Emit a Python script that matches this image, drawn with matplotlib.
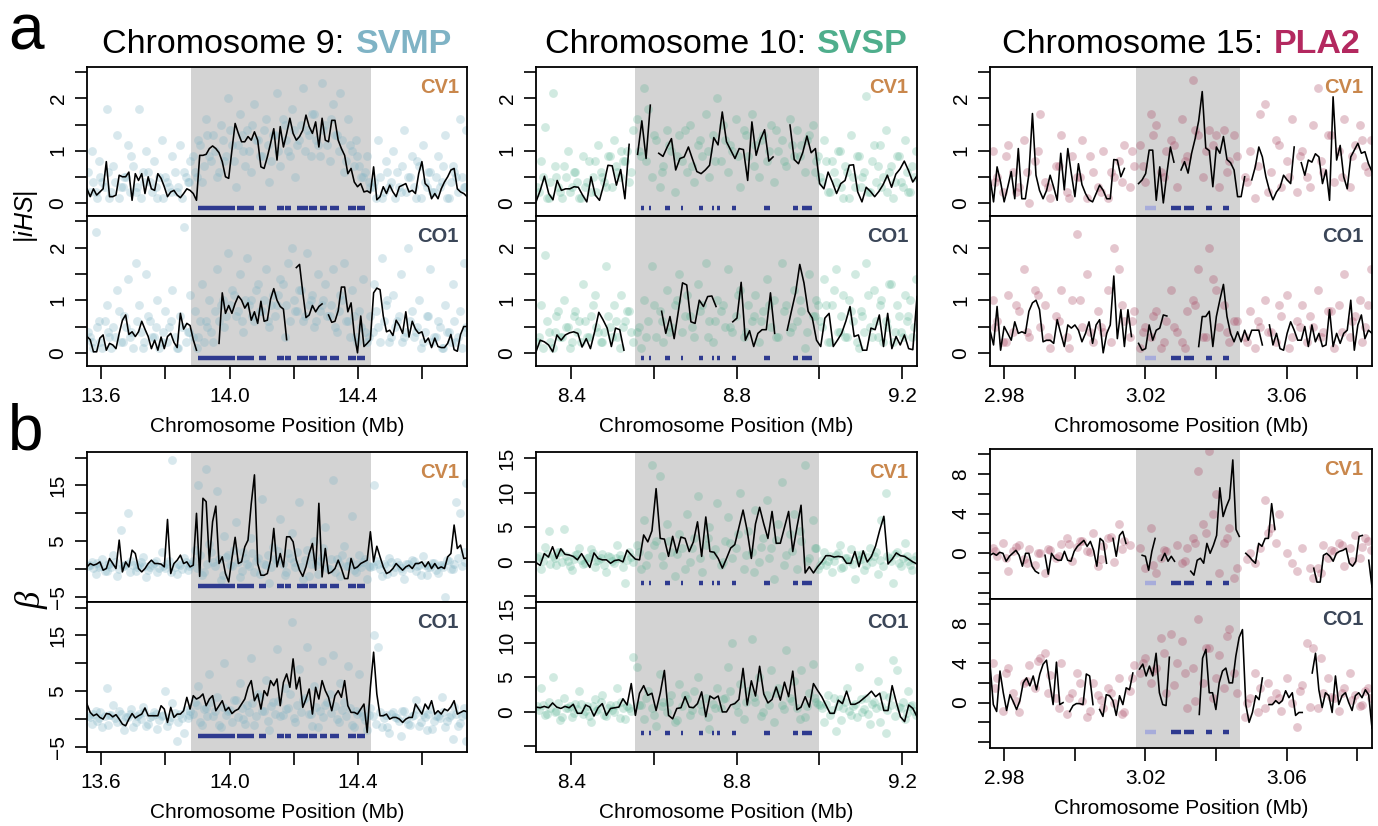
import numpy as np
import matplotlib
matplotlib.use("Agg")
import matplotlib.pyplot as plt
from matplotlib.offsetbox import TextArea, HPacker, AnnotationBbox

plt.rcParams['font.family'] = ['Liberation Sans', 'DejaVu Sans']
plt.rcParams['mathtext.fontset'] = 'custom'
plt.rcParams['mathtext.it'] = 'Liberation Sans:italic'
plt.rcParams['mathtext.rm'] = 'Liberation Sans'

# ---------------- data ----------------
# window means (|iHS| and beta), evenly spaced windows across each plotted region; None = no data
IHS_CV1_SVMP = [0.27,0.12,0.27,0.15,0.21,0.27,0.79,0.12,0.12,0.15,
                0.53,0.50,0.50,0.59,0.05,0.56,0.43,0.56,0.18,0.50,
                0.27,0.24,0.56,0.47,0.31,0.12,0.21,0.24,0.15,0.10,
                0.18,0.27,0.24,0.18,0.05,0.91,0.91,0.93,1.04,1.09,
                1.04,0.96,0.79,0.50,0.47,1.01,1.52,1.33,1.17,1.17,
                1.27,1.20,1.36,1.20,0.69,0.66,0.88,1.14,1.42,0.82,
                1.46,1.07,1.33,1.62,1.33,1.20,1.27,1.39,1.68,1.46,
                1.33,1.55,1.07,1.62,1.20,1.17,1.58,1.58,1.20,1.04,
                0.91,0.56,0.66,0.40,0.31,0.37,0.21,0.23,0.19,0.69,
                0.06,0.12,0.31,0.18,0.34,0.21,0.12,0.31,0.34,0.37,
                0.21,0.24,0.18,0.56,0.79,0.37,0.31,0.08,0.18,0.08,
                0.27,0.40,0.50,0.63,0.66,0.27,0.21,0.18,0.12]
IHS_CO1_SVMP = [0.31,0.25,0.02,0.02,0.28,0.34,0.05,0.18,0.15,0.08,
                0.37,0.62,0.72,0.35,0.40,0.31,0.40,0.60,0.45,0.31,
                0.08,0.24,0.05,0.30,0.08,0.31,0.37,0.20,0.10,0.75,
                0.45,0.56,0.52,0.25,0.05,None,None,None,None,None,
                None,0.18,1.14,0.75,0.90,0.75,0.94,1.08,1.00,0.85,
                0.95,0.62,0.78,0.56,0.98,0.60,0.62,1.02,1.22,1.00,
                0.88,0.83,0.25,None,None,1.62,1.68,1.15,0.67,0.72,
                0.90,0.78,0.88,0.93,None,0.72,0.58,0.60,0.80,1.25,
                1.25,0.78,0.95,0.35,0.00,0.70,0.12,0.18,0.25,1.14,
                1.23,1.20,0.70,0.40,0.43,0.33,0.62,0.52,0.37,0.78,
                0.30,0.60,0.45,0.37,0.40,0.20,0.28,0.10,0.28,0.12,
                0.10,0.10,0.18,0.35,0.06,0.03,0.35,0.50,0.50]
BETA_CV1_SVMP = [0.4,1.0,0.7,0.9,1.3,-0.2,0.1,1.9,1.0,0.1,
                 5.2,-0.5,1.3,0.4,3.4,2.8,0.1,-0.5,0.1,1.0,
                 1.6,1.0,1.0,0.9,0.4,8.9,-0.8,1.0,1.6,2.5,
                 1.0,1.3,0.4,0.7,10.0,-1.3,12.7,12.1,1.3,8.5,
                 11.3,1.0,2.2,-0.8,-2.3,1.9,5.7,1.0,1.3,4.0,
                 5.2,11.7,16.9,1.0,-1.1,-1.1,-0.8,1.6,7.3,0.4,
                 2.8,0.4,5.8,5.8,4.9,1.6,-0.2,-1.3,0.4,2.8,
                 4.6,-0.2,11.8,-1.4,3.7,-0.8,-0.5,0.1,1.6,0.1,
                 -1.7,-1.7,1.9,0.1,0.4,1.0,1.3,1.6,6.7,1.3,
                 4.1,2.2,0.4,-0.8,-0.5,0.1,1.0,0.4,-0.2,0.4,
                 0.7,0.1,1.0,1.0,1.3,0.4,1.3,0.1,1.0,0.1,
                 0.4,0.1,2.2,2.8,7.9,3.7,4.3,1.9,2.0]
BETA_CO1_SVMP = [2.7,1.2,0.6,0.9,0.3,0.0,1.0,0.9,0.4,0.8,
                 0.0,-0.9,-1.2,0.0,1.0,0.2,0.6,0.9,2.0,0.6,
                 0.6,0.6,0.6,2.4,1.8,-0.6,2.1,0.3,0.9,0.9,
                 1.5,3.9,1.8,4.2,3.6,3.9,4.5,2.4,3.6,4.2,
                 1.5,2.4,3.3,1.5,2.1,1.0,1.5,1.8,2.7,3.6,
                 5.7,6.9,3.3,4.5,1.8,5.1,4.2,6.9,6.0,7.2,
                 2.4,6.6,8.1,5.7,10.8,5.4,7.5,2.1,3.6,5.4,
                 0.9,5.7,3.6,6.9,5.1,3.9,1.5,4.2,5.1,3.9,
                 6.9,2.4,1.2,1.2,0.9,1.8,2.7,-2.4,5.7,12.0,
                 4.5,0.6,0.6,0.9,0.0,0.3,0.3,0.0,-0.6,0.0,
                 0.3,0.3,2.7,1.8,0.9,2.7,1.8,3.3,0.9,1.5,
                 0.9,1.8,1.5,2.2,3.3,0.9,1.2,1.5,1.3]

IHS_CV1_SVSP = [0.02,0.24,0.51,0.18,0.06,0.43,0.24,0.27,0.27,0.31,
                0.30,0.15,0.02,0.50,0.15,0.05,0.35,0.72,0.71,0.34,
                0.64,0.08,1.12,None,0.93,1.57,0.85,1.87,None,0.95,
                0.89,1.07,1.23,0.63,0.85,0.88,1.07,0.83,0.60,0.56,
                0.63,0.72,1.25,1.11,1.74,1.17,1.01,0.85,1.04,1.02,
                0.43,1.55,0.91,1.21,1.40,0.80,0.88,None,None,None,
                1.49,0.83,0.75,0.96,1.28,0.96,1.04,0.37,0.27,0.59,
                0.40,0.18,0.37,0.43,0.72,0.73,0.21,0.02,0.30,0.22,
                0.12,0.22,0.35,0.53,0.30,0.55,0.65,0.80,0.62,0.40,0.52]
IHS_CO1_SVSP = [0.02,0.24,0.21,0.15,0.02,0.34,0.24,0.34,0.38,0.40,
                0.37,0.11,0.27,0.08,0.40,0.77,0.63,0.47,0.12,0.47,
                0.44,0.05,None,None,None,None,None,None,None,None,
                0.79,0.37,0.69,0.27,0.79,1.33,1.29,0.59,0.56,1.00,
                0.88,1.07,1.08,0.88,None,None,None,0.59,0.66,1.34,
                0.24,0.42,0.12,0.37,0.44,0.44,1.14,0.37,None,None,
                0.43,0.79,1.14,1.68,1.33,0.79,0.66,0.24,0.12,0.66,
                0.75,0.12,0.24,0.37,0.60,0.88,0.31,0.34,0.05,0.05,
                0.47,0.44,0.72,0.12,0.75,0.08,0.31,0.15,0.34,0.08,
                0.06,1.07]
BETA_CV1_SVSP = [-0.1,-0.5,1.2,0.7,2.2,0.5,1.9,1.1,1.0,0.8,
                 0.3,1.2,0.2,-0.8,1.3,0.5,0.3,0.3,-0.2,0.2,
                 0.3,0.0,1.7,1.0,0.4,0.3,3.9,2.9,4.5,10.6,
                 3.4,3.3,0.8,3.7,1.3,3.6,3.4,1.5,2.9,5.8,
                 0.8,6.5,1.5,1.4,0.5,-0.9,0.5,2.0,2.5,5.0,
                 7.5,4.5,0.5,5.5,7.9,5.5,3.4,7.3,2.7,2.7,
                 5.0,7.3,1.5,5.0,8.2,-1.6,-0.7,-1.6,-0.7,0.0,
                 0.9,0.9,0.7,0.8,0.7,-0.2,-0.2,1.5,-0.7,1.6,
                 0.0,0.8,2.3,4.6,6.6,-0.3,0.4,1.3,0.9,0.8,
                 0.4,0.0,-0.3]
BETA_CO1_SVSP = [0.7,0.6,0.8,0.6,1.3,0.7,0.5,0.8,0.6,1.1,
                 -0.2,-0.2,1.0,0.7,-0.6,0.6,1.2,-0.5,0.5,0.6,
                 0.7,1.9,1.0,4.1,-0.5,2.7,3.8,2.4,2.7,0.2,
                 2.7,6.0,-0.5,-1.0,0.5,0.6,2.2,0.7,0.6,1.2,
                 2.9,-0.7,2.3,1.9,2.3,0.0,0.0,1.0,1.2,1.8,
                 6.3,1.0,4.5,2.3,6.6,2.6,1.3,1.8,3.6,1.7,
                 4.3,2.2,5.9,0.3,0.7,2.2,0.7,4.1,3.1,2.2,
                 1.0,-0.2,-0.2,1.7,1.2,3.0,1.1,1.1,1.4,1.9,
                 2.4,3.0,2.2,2.7,0.2,0.2,3.8,1.4,-0.7,-1.4,
                 1.0,0.5,-0.7]

IHS_CV1_PLA2 = [0.50,0.02,0.69,0.40,0.02,0.30,0.60,0.08,1.04,0.08,
                0.08,0.55,1.71,0.53,0.24,0.08,0.24,0.53,0.30,0.05,
                0.95,0.25,1.04,0.56,0.12,0.75,0.35,0.18,0.06,0.02,
                0.18,0.34,0.24,0.08,0.08,0.83,0.82,0.50,0.66,None,
                None,None,0.37,0.44,0.56,1.01,1.01,0.05,0.69,0.00,
                0.56,1.07,0.78,None,0.63,0.79,0.57,0.95,1.23,1.57,
                2.13,1.05,1.00,0.31,1.07,0.95,1.27,0.83,0.77,0.63,
                0.12,0.12,0.50,None,0.44,0.69,1.07,0.88,0.50,0.24,
                0.06,0.21,0.30,0.53,0.44,0.37,1.07,None,0.77,0.53,
                0.82,0.78,0.94,0.88,0.37,0.63,0.05,2.03,0.82,1.10,
                0.50,0.27,0.88,1.01,1.14,0.95,0.98,0.75,0.60]
IHS_CO1_PLA2 = [0.43,0.15,0.88,0.05,0.50,0.37,0.24,0.59,0.37,0.40,
                0.37,0.79,0.95,1.00,0.82,0.21,0.24,0.24,0.18,0.63,
                0.37,0.12,0.53,0.47,0.53,0.43,0.21,0.37,0.59,0.18,
                0.53,0.63,0.00,0.37,0.53,1.46,0.27,0.82,0.12,0.82,
                0.31,None,0.18,0.05,0.08,0.53,0.24,0.43,0.47,0.72,
                0.70,None,None,None,None,None,None,None,None,0.12,
                0.69,0.69,0.79,0.12,0.69,1.01,1.30,0.69,0.37,0.21,
                0.40,0.21,0.43,0.24,0.43,0.43,0.43,0.15,None,0.53,
                0.15,0.37,0.08,0.05,0.37,0.59,0.43,0.24,0.24,0.50,
                0.12,0.53,0.21,0.37,0.12,0.15,0.82,0.12,0.37,0.18,
                0.37,0.43,1.00,0.05,0.53,0.72,0.27,0.43,0.37]
BETA_CV1_PLA2 = [-0.2,0.0,-0.2,0.1,0.0,-0.8,-0.3,0.0,0.3,-0.2,
                 -1.3,0.0,0.0,-1.3,-1.8,-2.0,None,-0.2,-2.1,0.0,
                 -0.5,-0.7,-0.7,0.2,-0.7,-0.8,0.2,0.7,1.0,1.3,
                 0.7,1.2,0.3,-1.3,1.5,1.2,-1.0,None,1.5,-0.3,
                 1.8,2.2,1.0,None,None,None,None,-0.2,-0.3,-1.7,
                 0.2,1.5,None,-0.7,0.0,-0.8,-0.3,-0.8,None,None,
                 None,None,-1.8,-2.2,-0.7,-0.5,-1.0,1.0,0.0,0.8,
                 1.8,6.6,3.7,4.7,5.5,9.4,2.4,1.7,None,0.0,
                 -0.3,-0.7,-1.0,1.0,0.7,1.5,1.5,5.0,2.4,None,
                 None,None,None,None,None,None,None,None,None,None,
                 -1.5,-2.9,-2.9,-0.2,0.0,-0.3,-0.8,0.0,0.2,0.3,
                 0.5,-1.0,-1.3,-0.8,1.7,1.8,None,-0.7,-3.4]
BETA_CO1_PLA2 = [3.9,-0.2,-0.9,3.2,1.0,-0.8,0.8,0.1,-0.7,0.2,
                 2.0,2.5,1.7,2.7,1.3,2.9,3.9,4.3,2.0,-0.2,
                 4.1,-0.2,0.0,None,-0.9,-0.3,-0.1,-0.1,-0.2,2.9,
                 2.7,-0.2,None,-0.7,-1.4,0.8,0.7,0.2,-1.3,0.7,
                 -0.2,1.5,1.3,3.0,None,3.4,3.9,2.7,3.7,2.7,
                 5.0,1.0,-0.2,-0.3,4.6,None,None,None,None,None,
                 None,None,None,-1.2,4.5,5.4,1.0,1.0,-0.7,2.0,
                 3.2,3.5,2.0,2.0,4.7,6.6,7.4,-0.2,-2.0,-1.0,
                 0.7,0.3,2.5,None,-0.2,-0.2,0.2,-0.1,0.2,1.2,
                 0.5,1.0,-1.3,-1.0,-1.0,None,None,3.0,5.0,1.3,
                 -0.5,1.0,0.7,-1.0,2.7,-0.2,0.7,1.0,0.0,-0.8,
                 0.7,1.0,0.5,1.3,0.8,-2.6]

# individual SNPs: positions in Mb, one value per panel (two batches of SNPs per region)
SNP_POS_SVMP = [13.560,13.571,13.583,13.592,13.604,13.617,13.625,13.638,13.649,13.661,
                13.672,13.684,13.693,13.707,13.718,13.729,13.741,13.752,13.766,13.774,
                13.788,13.799,13.811,13.822,13.836,13.845,13.858,13.869,13.878,13.891,
                13.903,13.914,13.927,13.936,13.949,13.961,13.972,13.984,13.995,14.008,
                14.019,14.031,14.043,14.054,14.066,14.077,14.089,14.102,14.113,14.124,
                14.136,14.147,14.158,14.171,14.183,14.194,14.205,14.217,14.229,14.241,
                14.252,14.263,14.276,14.287,14.298,14.311,14.322,14.334,14.345,14.357,
                14.368,14.381,14.392,14.404,14.415,14.427,14.438,14.451,14.462,14.474,
                14.486,14.497,14.508,14.521,14.532,14.544,14.556,14.567,14.579,14.590,
                14.602,14.613,14.625,14.637,14.648,14.660,14.671,14.683,14.694,14.706,
                14.718,14.729,14.737]
SNP_IHS_CV1_SVMP = [0.6,1.0,0.2,0.8,0.4,1.8,0.1,0.7,1.3,0.3,0.5,1.1,0.9,0.2,1.8,0.6,1.0,0.4,0.8,0.1,
                    1.2,0.5,0.3,0.9,0.2,1.1,0.6,0.4,0.8,0.6,1.2,0.4,1.6,0.9,1.3,0.5,1.5,0.8,2.0,
                    1.1,0.3,1.7,1.0,1.4,0.6,1.9,1.2,0.9,1.6,0.4,1.3,2.1,0.7,1.5,1.0,1.8,0.5,1.2,2.2,
                    1.4,0.9,1.7,1.1,2.3,1.5,0.8,1.9,1.3,2.1,0.6,1.6,1.0,1.2,0.7,0.5,0.9,0.3,
                    0.4,1.2,0.1,0.8,0.3,1.0,0.6,0.2,1.4,0.5,0.9,0.1,0.7,1.1,0.3,0.6,0.2,0.9,0.4,1.3,
                    0.1,0.7,0.5,1.6,0.3,1.4]
SNP_IHS_CO1_SVMP = [0.4,0.2,2.3,0.6,0.1,0.9,0.3,0.5,1.2,0.2,0.7,1.4,0.4,1.7,0.9,0.1,1.5,0.6,0.3,1.0,
                    0.2,0.8,0.5,1.2,0.1,0.7,2.4,0.4,1.1,0.8,0.3,1.3,0.6,1.0,0.2,1.6,0.9,0.5,1.9,
                    1.2,0.7,1.5,0.4,1.8,1.0,0.6,1.3,0.8,1.6,0.5,1.1,0.9,1.4,0.3,1.7,2.0,0.8,1.2,0.6,
                    1.9,1.0,0.5,1.5,0.9,1.3,0.7,1.6,0.4,1.1,1.7,0.6,1.2,0.3,0.8,1.4,0.2,0.7,
                    1.3,0.5,1.8,0.9,0.2,1.1,0.6,1.5,0.3,2.0,0.8,0.4,1.0,0.2,0.7,1.6,0.3,0.6,0.1,0.9,
                    0.4,1.3,0.2,0.8,1.7,0.5]
SNP_BETA_CV1_SVMP = [0.5,1.2,-0.8,0.3,1.8,-0.4,0.9,2.5,-1.2,7.0,0.6,10.0,1.5,-0.3,0.8,2.2,-1.5,0.4,1.1,-0.6,
                     3.0,0.2,1.4,19.5,-0.9,0.7,2.0,-0.2,1.0,3.5,15.0,-1.0,18.0,4.5,1.2,14.0,-2.0,6.0,2.5,
                     0.5,8.5,-1.5,3.0,1.0,5.5,-0.5,2.0,12.5,0.8,-2.5,4.0,1.5,9.0,-1.0,2.8,6.5,0.3,12.0,-1.8,
                     3.5,1.0,5.0,-0.8,2.2,7.5,0.0,16.0,1.8,-1.2,4.2,0.6,9.5,-0.5,2.5,1.2,-1.8,0.4,
                     15.0,1.0,-1.2,0.5,2.0,-0.6,1.3,0.2,-1.8,0.9,1.6,-0.4,0.7,2.4,-1.0,0.3,1.1,-0.7,0.8,-5.0,
                     1.4,0.1,12.0,10.0,3.0,15.5]
SNP_BETA_CO1_SVMP = [0.5,-0.8,1.4,0.2,-1.5,5.5,0.8,2.5,-0.5,1.0,-2.0,0.4,1.8,-0.6,0.9,2.2,-1.2,0.3,1.2,-1.8,
                     0.6,5.0,-0.3,2.8,-4.0,1.0,-2.5,0.2,1.5,3.0,6.0,-1.0,2.0,8.0,0.5,4.0,-1.5,10.0,1.5,
                     -0.5,3.5,6.5,0.0,2.5,11.0,-1.0,4.5,1.5,7.0,-2.0,3.0,12.5,0.5,5.5,2.0,17.5,-0.5,9.0,3.5,
                     13.0,1.0,6.0,-1.5,10.5,2.5,4.5,11.5,0.0,6.5,3.0,9.5,-1.0,1.5,8.0,0.5,-2.0,2.0,
                     15.0,13.0,-1.5,0.8,-2.5,1.2,0.2,-3.0,1.5,-0.8,0.5,3.5,-1.2,0.9,-2.0,1.8,-0.4,0.6,4.0,-1.5,
                     0.3,-3.5,1.0,-0.7,2.0,-4.0]
SNP2_POS_SVMP = [13.566,13.576,13.588,13.598,13.611,13.621,13.631,13.643,13.655,13.667,
                 13.678,13.689,13.700,13.712,13.723,13.735,13.746,13.759,13.770,13.781,
                 13.794,13.805,13.816,13.829,13.840,13.851,13.863,13.874,
                 13.885,13.897,13.909,13.920,13.931,13.943,13.955,13.966,13.978,13.990,
                 14.001,14.013,14.025,14.037,14.048,14.060,14.071,14.083,14.095,14.107,
                 14.118,14.130,14.141,14.152,14.165,14.177,14.188,14.199,14.211,14.223,
                 14.235,14.246,14.257,14.270,14.281,14.292,14.304,14.316,14.328,14.339,
                 14.351,14.362,14.375,14.386,14.398,14.409,14.421,14.433,
                 14.445,14.456,14.468,14.480,14.491,14.502,14.514,14.526,14.538,14.550,
                 14.561,14.573,14.584,14.596,14.607,14.619,14.631,14.642,14.654,14.665,
                 14.677,14.689,14.700,14.712,14.723,14.733]
SNP2_IHS_CV1_SVMP = [0.2,0.4,0.1,0.5,0.3,0.6,0.2,0.4,0.1,0.3,0.5,0.2,0.7,0.3,0.1,0.4,0.6,0.2,0.3,0.5,
                     0.1,0.4,0.2,0.6,0.3,0.1,0.5,0.4,
                     0.9,0.5,1.1,0.7,1.3,0.8,1.0,0.6,1.2,0.9,1.4,0.8,1.1,1.3,0.7,1.0,1.5,1.2,0.9,1.4,
                     1.1,0.8,1.3,1.0,1.6,1.2,0.9,1.4,1.1,1.5,1.0,1.3,1.7,1.2,0.9,1.4,1.1,1.6,1.3,1.0,
                     1.2,0.8,1.1,0.7,0.9,0.5,0.6,0.4,
                     0.3,0.1,0.5,0.2,0.6,0.4,0.1,0.3,0.7,0.2,0.5,0.3,0.8,0.1,0.4,0.6,0.2,0.5,0.3,0.7,
                     0.1,0.4,0.6,0.2,0.5,0.3]
SNP2_IHS_CO1_SVMP = [0.3,0.1,0.5,0.2,0.6,0.4,0.1,0.3,0.8,0.2,0.5,0.3,0.1,0.6,0.4,0.2,0.7,0.3,0.5,0.1,
                     0.4,0.2,0.6,0.3,0.1,0.5,0.2,0.4,
                     0.3,0.1,0.6,0.2,0.5,0.4,0.8,0.6,1.0,0.7,0.9,1.1,0.8,0.6,1.0,0.9,0.7,1.2,0.8,1.0,
                     0.6,0.9,0.7,1.1,1.3,0.9,0.6,1.0,0.8,1.2,0.7,0.9,1.1,0.6,0.8,1.0,0.7,0.9,0.5,0.8,
                     1.0,0.6,0.3,0.7,0.2,0.5,0.4,0.3,
                     0.4,0.8,0.2,0.6,1.0,0.3,0.5,0.7,0.2,0.4,0.6,0.3,0.5,0.1,0.4,0.7,0.2,0.3,0.5,0.1,
                     0.4,0.2,0.6,0.3,0.1,0.4]
SNP2_BETA_CV1_SVMP = [0.8,0.2,1.1,0.5,-0.3,0.9,0.4,1.3,0.1,0.6,1.0,-0.5,0.7,0.3,1.2,0.5,-0.2,0.8,1.4,0.2,
                      0.6,1.0,-0.6,0.4,0.9,0.1,1.3,0.5,
                      1.5,0.2,2.5,-0.5,1.0,3.0,0.5,1.8,-1.0,2.2,0.8,3.5,1.2,-0.3,2.0,0.6,2.8,1.5,-0.8,1.0,
                      2.5,0.3,1.8,3.2,0.9,-0.5,2.0,1.2,3.0,0.4,1.6,-1.2,2.3,0.7,1.4,3.8,0.2,1.9,-0.6,1.1,
                      2.6,0.5,1.5,-0.2,1.0,0.3,1.8,0.6,
                      0.5,1.5,0.0,0.9,-0.8,1.2,0.3,0.7,-0.4,1.0,0.2,1.4,0.6,-1.0,0.8,0.4,1.1,-0.2,0.7,0.3,
                      1.6,0.1,0.9,2.0,0.5,1.2]
SNP2_BETA_CO1_SVMP = [0.3,0.9,-0.4,1.2,0.5,-1.0,0.7,0.2,1.5,-0.6,0.4,1.0,-1.5,0.6,0.1,1.3,-0.8,0.5,0.9,-0.2,
                      0.8,-1.2,0.4,1.1,-0.5,0.2,1.6,0.7,
                      1.0,2.5,-0.5,1.8,0.6,3.0,1.4,-1.0,2.2,0.8,1.6,3.5,0.3,2.0,-0.8,1.2,2.8,0.5,4.0,1.5,
                      -0.3,2.4,1.0,3.2,0.7,1.8,4.5,0.2,2.6,1.3,3.8,0.9,-1.2,2.1,1.5,0.4,3.0,1.1,2.4,-0.6,
                      1.7,0.5,2.0,-1.5,0.9,1.3,-0.2,0.8,
                      0.6,-0.8,1.2,0.2,-1.5,0.9,0.4,-0.3,1.4,0.1,-1.0,0.7,1.8,-0.5,0.3,1.0,-1.8,0.6,0.2,1.3,
                      -0.4,0.8,2.2,-1.2,0.5,1.0]

SNP_POS_SVSP = [8.318,8.327,8.336,8.346,8.355,8.364,8.373,8.383,8.392,8.401,
                8.410,8.420,8.429,8.438,8.447,8.457,8.466,8.475,8.484,8.494,
                8.503,8.512,8.521,8.531,8.540,8.549,
                8.558,8.568,8.577,8.586,8.595,8.605,8.614,8.623,8.632,8.642,
                8.651,8.660,8.669,8.679,8.688,8.697,8.706,8.716,8.725,8.734,
                8.743,8.753,8.762,8.771,8.780,8.790,8.799,8.808,8.817,8.827,
                8.836,8.845,8.854,8.864,8.873,8.882,8.891,8.901,8.910,8.919,
                8.928,8.938,8.947,8.956,8.965,8.975,8.984,8.993,
                9.002,9.012,9.021,9.030,9.039,9.049,9.058,9.067,9.076,9.086,
                9.095,9.104,9.113,9.123,9.132,9.141,9.150,9.160,9.169,9.178,
                9.187,9.197,9.206,9.215,9.224,9.233]
SNP_IHS_CV1_SVSP = [0.3,0.8,1.45,0.1,2.1,0.5,0.2,0.7,1.0,0.3,0.6,0.1,0.9,0.4,0.2,0.8,1.1,0.5,0.3,0.9,
                    1.2,0.6,1.0,0.8,0.4,1.4,
                    1.6,0.9,2.2,1.8,0.5,1.2,0.3,0.7,1.4,1.0,0.2,1.3,0.8,0.6,1.5,0.4,1.1,0.9,1.7,0.5,
                    1.3,2.0,0.8,1.2,0.6,1.0,1.6,0.3,1.4,0.9,1.7,1.1,0.5,1.3,0.8,1.5,0.4,1.0,1.2,0.7,
                    1.6,0.9,1.4,1.1,0.6,1.3,1.5,0.8,
                    0.5,1.2,0.2,0.8,0.4,1.0,0.1,0.6,1.3,0.3,0.9,0.5,2.05,0.2,1.1,0.7,0.3,1.4,0.6,0.1,
                    0.9,0.4,1.2,0.2,0.7,1.0]
SNP_IHS_CO1_SVSP = [0.2,0.9,1.85,0.4,0.1,0.7,0.3,1.0,0.5,0.2,0.8,0.6,1.3,0.3,0.7,1.1,0.4,0.2,1.65,0.5,
                    0.9,0.3,1.1,0.6,0.8,0.2,
                    0.4,0.1,1.0,0.6,1.65,0.3,0.8,0.2,1.2,0.5,0.9,1.5,0.4,1.1,0.7,0.3,1.3,0.9,1.7,0.6,
                    0.2,1.0,0.8,0.5,1.6,0.4,0.7,1.2,0.3,0.9,0.6,1.1,0.2,0.8,1.4,0.5,1.0,0.3,1.7,0.9,
                    0.4,1.2,0.6,0.8,0.1,1.5,0.7,1.0,
                    0.6,1.4,0.2,0.9,1.6,0.4,1.1,0.3,0.8,1.5,0.1,0.7,1.7,0.5,1.2,0.3,1.0,0.6,1.3,0.2,
                    0.9,0.4,1.1,0.7,0.3,1.4]
SNP_BETA_CV1_SVSP = [0.5,-1.0,2.2,4.5,0.8,-0.5,1.5,4.8,0.2,-1.2,1.0,2.0,-0.3,0.6,1.8,-0.8,0.3,1.2,-1.5,0.7,
                     -0.2,2.5,0.4,-3.0,1.5,0.0,
                     2.5,-1.0,6.0,1.0,14.0,3.0,12.5,-0.5,5.5,1.5,-2.0,4.0,2.0,7.0,0.0,3.5,9.5,-1.5,2.5,5.0,
                     1.0,8.5,-0.5,3.0,6.5,0.5,2.0,10.0,-1.0,4.5,1.5,7.5,0.0,3.5,9.0,2.0,-2.5,5.5,11.5,1.0,
                     4.0,7.0,-1.0,3.0,14.0,0.5,6.0,2.0,
                     -0.5,1.5,0.2,-1.5,1.0,2.5,-0.8,0.6,1.8,-2.5,0.3,1.2,-0.4,2.0,0.8,-1.8,6.0,10.0,0.5,-3.0,
                     1.4,-0.6,2.8,0.2,-1.2,0.9]
SNP_BETA_CO1_SVSP = [0.8,3.5,-0.5,1.5,5.0,0.2,-1.2,2.0,0.6,-0.8,1.2,3.0,-0.3,0.9,-1.5,1.8,0.4,2.5,-0.6,1.0,
                     0.0,3.5,1.4,-1.0,0.5,8.0,
                     6.5,1.0,-1.0,3.0,0.5,-2.0,5.5,1.5,0.0,2.5,-1.5,4.0,0.8,1.8,-0.5,3.0,5.0,0.2,2.0,-2.5,
                     1.2,3.5,0.5,2.0,6.5,10.0,1.0,4.0,-1.0,3.0,10.5,1.5,5.0,0.0,2.5,6.0,-1.5,3.5,1.0,9.0,
                     2.0,4.5,0.5,6.0,-0.8,2.8,7.0,1.5,
                     1.0,-1.5,2.5,0.3,-2.8,1.8,0.6,3.5,-0.5,1.2,6.5,0.0,2.0,-1.8,1.5,4.5,0.8,-3.0,2.2,7.5,
                     6.0,0.5,-1.0,3.0,1.0,-0.5]
SNP2_POS_SVSP = [8.322,8.332,8.341,8.350,8.360,8.369,8.378,8.388,8.397,8.406,
                 8.415,8.424,8.434,8.443,8.452,8.461,8.471,8.480,8.489,8.499,
                 8.508,8.517,8.526,8.536,8.545,
                 8.563,8.572,8.582,8.591,8.600,8.610,8.619,8.628,8.637,8.646,
                 8.656,8.665,8.674,8.684,8.693,8.702,8.711,8.720,8.730,8.739,
                 8.748,8.757,8.767,8.776,8.785,8.794,8.804,8.813,8.822,8.831,
                 8.841,8.850,8.859,8.868,8.878,8.887,8.896,8.905,8.915,8.924,
                 8.933,8.942,8.952,8.961,8.970,8.979,8.989,8.997,
                 9.007,9.016,9.026,9.035,9.044,9.053,9.063,9.072,9.081,9.090,
                 9.100,9.109,9.118,9.127,9.137,9.146,9.155,9.164,9.174,9.183,
                 9.192,9.201,9.211,9.220,9.229]
SNP2_IHS_CV1_SVSP = [0.2,0.5,0.1,0.4,0.7,0.3,0.1,0.5,0.2,0.6,0.4,0.1,0.3,0.8,0.5,0.2,0.6,0.4,0.9,0.3,
                     0.7,0.5,0.8,1.0,0.6,
                     1.0,None,0.8,None,1.3,None,0.6,None,1.1,None,0.9,None,1.4,None,0.7,None,1.2,None,1.0,None,
                     0.8,None,1.5,None,1.1,None,0.9,None,1.3,None,0.7,None,1.2,None,1.0,None,1.4,None,0.8,None,
                     1.1,None,0.9,None,1.2,None,0.6,0.9,
                     0.4,0.8,0.2,0.6,1.0,0.3,0.7,0.1,0.5,0.9,0.3,0.6,0.2,0.8,0.4,1.1,0.5,0.2,0.7,0.4,
                     0.9,0.3,0.6,0.2,0.5]
SNP2_IHS_CO1_SVSP = [0.3,0.1,0.6,0.2,0.4,0.8,0.3,0.5,0.1,0.7,0.4,0.2,0.6,0.3,0.9,0.5,0.2,0.4,0.7,0.3,
                     0.6,0.1,0.5,0.8,0.4,
                     0.5,None,0.3,None,0.9,None,0.6,None,0.4,None,1.0,None,0.7,None,0.5,None,0.8,None,0.3,None,
                     0.6,None,0.9,None,0.5,None,1.1,None,0.4,None,0.7,None,0.6,None,0.9,None,0.3,None,0.8,None,
                     0.5,None,1.0,None,0.4,None,0.7,0.9,
                     0.5,0.9,0.2,1.2,0.4,0.7,0.3,1.0,0.6,0.2,0.8,0.4,1.1,0.3,0.6,0.9,0.2,0.5,1.3,0.4,
                     0.7,0.3,0.6,1.0,0.5]
SNP2_BETA_CV1_SVSP = [0.8,0.2,1.2,-0.3,0.6,1.5,0.0,0.9,-0.6,0.4,1.1,0.3,-0.2,0.7,1.3,0.1,0.5,-0.4,0.9,0.2,
                      0.6,1.0,-0.8,0.3,0.7,
                      1.5,None,-0.5,None,2.5,None,0.8,None,3.0,None,1.2,None,-1.0,None,2.0,None,0.5,None,3.5,None,
                      1.8,None,0.0,None,2.8,None,4.0,None,1.0,None,-1.5,None,2.2,None,0.6,None,3.2,None,-0.5,None,
                      1.6,None,4.5,None,0.2,None,2.0,-1.0,
                      0.3,-0.5,0.9,0.1,1.3,-0.9,0.6,0.2,-0.3,1.0,0.4,-1.2,0.7,0.0,1.5,0.3,-0.6,0.8,0.2,1.1,
                      -0.2,0.5,0.9,-0.4,0.3]
SNP2_BETA_CO1_SVSP = [0.3,1.0,-0.3,0.6,0.0,1.3,-0.8,0.5,0.9,-0.2,0.4,1.1,0.2,-0.6,0.8,0.1,1.4,-0.4,0.6,0.3,
                      1.0,-0.9,0.5,0.8,0.2,
                      1.0,None,2.0,None,-0.5,None,0.8,None,1.5,None,-1.2,None,2.5,None,0.3,None,1.2,None,-0.8,None,
                      0.5,None,1.8,None,3.0,None,0.0,None,1.4,None,2.2,None,-0.6,None,1.0,None,2.8,None,0.4,None,
                      1.6,None,-1.0,None,0.8,None,2.0,1.2,
                      0.5,1.2,-0.5,2.0,0.8,-1.2,1.5,0.2,0.9,-0.8,1.8,0.4,-0.3,1.2,0.6,-1.5,2.4,0.3,1.0,-0.6,
                      0.7,1.5,-0.2,0.9,0.1]

SNP_POS_PLA2 = [2.9768,2.9781,2.9797,2.9812,2.9826,2.9843,2.9857,2.9871,2.9888,2.9902,
                2.9917,2.9931,2.9948,2.9962,2.9977,2.9991,3.0007,3.0021,3.0036,3.0052,
                3.0066,3.0081,3.0095,3.0111,3.0126,3.0140,3.0156,3.0169,
                3.0186,3.0200,3.0215,3.0229,3.0245,3.0259,3.0274,3.0290,3.0304,3.0318,
                3.0334,3.0348,3.0363,3.0379,3.0393,3.0408,3.0422,3.0438,3.0452,
                3.0481,3.0497,3.0511,3.0526,3.0540,3.0556,3.0570,3.0585,3.0601,3.0615,
                3.0629,3.0645,3.0659,3.0674,3.0690,3.0704,3.0718,3.0734,3.0748,3.0763,
                3.0779,3.0793,3.0807,3.0823,3.0838]
SNP_IHS_CV1_PLA2 = [1.0,0.5,0.2,1.1,0.6,0.3,1.2,0.0,0.8,1.7,0.4,0.1,0.7,1.3,0.2,0.9,0.5,1.2,0.1,0.6,
                    0.3,1.0,0.1,0.5,0.8,1.1,0.3,0.7,
                    1.1,0.4,1.7,1.5,0.6,1.0,1.2,0.3,1.6,0.9,2.35,1.3,0.5,1.4,1.1,0.3,1.4,0.8,1.3,
                    0.5,1.0,0.1,1.7,1.9,0.6,1.2,0.3,0.8,1.6,0.2,1.0,0.5,1.5,2.2,0.6,1.3,0.4,1.0,1.6,
                    0.3,1.1,1.5,0.7,1.2]
SNP_IHS_CO1_PLA2 = [1.0,0.6,0.2,1.1,0.4,0.8,1.6,0.3,1.2,0.5,0.9,0.1,0.7,1.2,0.3,1.0,2.25,0.5,1.5,0.2,
                    0.8,0.4,1.2,2.0,1.6,0.6,0.3,0.8,
                    0.1,0.5,0.3,0.8,0.1,0.6,1.2,0.4,0.2,0.8,1.0,1.6,0.3,2.0,1.4,0.5,0.9,0.2,0.6,
                    0.3,0.8,0.1,0.5,1.0,0.4,0.2,0.7,1.1,0.3,0.6,0.9,0.2,0.5,1.2,0.4,0.8,0.1,0.9,1.5,
                    0.3,0.7,1.0,0.5,1.6]
SNP_BETA_CV1_PLA2 = [0.5,-0.3,1.0,-1.8,0.2,0.8,-0.6,0.4,-1.2,0.0,-2.0,0.3,-0.5,0.9,1.5,-0.8,0.6,1.2,0.2,2.0,
                     -1.3,0.7,1.5,-0.9,3.0,1.2,0.8,None,
                     0.5,-1.5,2.5,-2.0,-0.5,0.2,None,0.8,-1.0,0.5,1.5,8.3,3.0,10.3,4.0,-2.0,1.0,2.5,-2.5,
                     None,0.0,-1.0,0.5,5.4,2.5,1.0,None,0.0,-1.0,-1.8,0.5,None,-2.5,-1.5,0.8,-0.5,0.2,1.0,-1.3,
                     0.5,1.8,-0.5,1.5,0.3]
SNP_BETA_CO1_PLA2 = [4.0,2.5,-0.8,3.5,1.0,-1.0,2.0,3.8,1.5,4.5,5.0,2.8,0.5,4.0,-1.2,1.0,3.0,0.2,-1.5,2.0,
                     0.8,-0.5,1.5,0.0,2.5,-1.0,1.2,3.8,
                     3.0,4.5,2.0,3.5,6.5,1.0,7.0,4.0,6.2,-0.5,3.5,8.5,2.0,5.5,0.5,4.8,1.5,7.5,3.0,
                     -1.5,0.5,3.0,1.5,-0.5,0.3,1.0,-0.8,2.5,0.0,-2.5,1.8,6.0,5.5,-0.5,1.0,2.5,0.5,-0.8,1.5,
                     3.0,0.8,-0.3,1.2,0.5]
SNP2_POS_PLA2 = [2.9774,2.9805,2.9835,2.9864,2.9895,2.9924,2.9955,2.9984,3.0014,3.0044,
                 3.0074,3.0103,3.0133,3.0162,
                 3.0193,3.0222,3.0252,3.0282,3.0311,3.0341,3.0371,3.0400,3.0430,3.0460,
                 3.0489,3.0519,3.0548,3.0578,3.0608,3.0637,3.0667,3.0697,3.0726,3.0756,
                 3.0786,3.0815,3.0831]
SNP2_IHS_CV1_PLA2 = [0.4,0.9,0.2,0.6,1.0,0.3,0.7,0.1,0.5,0.9,0.2,0.6,0.4,1.0,
                     0.7,1.3,0.5,1.1,0.8,1.4,1.0,1.3,0.6,0.9,
                     0.4,0.7,0.2,1.1,0.5,0.9,0.3,0.8,1.3,0.5,0.9,1.2,0.6]
SNP2_IHS_CO1_PLA2 = [0.5,0.2,0.9,0.4,1.1,0.3,0.6,0.1,1.0,0.4,0.5,0.2,0.9,0.6,
                     0.4,0.7,0.2,0.5,0.1,0.9,0.3,1.2,0.4,0.6,
                     0.2,0.6,0.4,0.9,0.1,0.5,0.7,0.3,0.8,0.4,0.6,0.2,0.9]
SNP2_BETA_CV1_PLA2 = [0.2,-0.5,0.6,-1.0,0.0,0.4,-0.3,0.9,1.2,0.1,-0.6,1.6,0.4,None,
                      None,-1.2,0.3,None,-0.8,1.0,2.0,6.0,1.5,-1.5,
                      -0.6,None,2.0,4.0,None,None,-1.5,-2.0,0.3,0.8,-0.8,0.6,1.2]
SNP2_BETA_CO1_PLA2 = [1.5,3.0,0.2,2.2,4.2,1.0,-0.5,0.5,2.0,-0.8,0.3,1.0,-1.2,2.5,
                      4.0,3.2,5.0,1.8,3.0,0.2,5.5,2.5,6.8,1.0,
                      0.0,-1.0,2.0,0.5,None,1.2,-0.4,4.5,0.6,1.0,0.3,-0.2,1.5]

# gene families (start, end in Mb) and candidate regions
GENE_START_SVMP = [13.903,14.022,14.092,14.147,14.173,14.211,14.248,14.280,14.311,14.367,14.398]
GENE_END_SVMP   = [14.017,14.076,14.114,14.170,14.191,14.245,14.273,14.303,14.339,14.394,14.422]
GENE_START_SVSP = [8.569,8.588,8.628,8.665,8.709,8.740,8.752,8.788,8.865,8.937,8.959]
GENE_END_SVSP   = [8.577,8.594,8.638,8.671,8.718,8.746,8.760,8.798,8.881,8.949,8.983]
GENE_START_PLA2 = [3.0199,3.0274,3.0309,3.0371,3.0419]
GENE_END_PLA2   = [3.0229,3.0300,3.0338,3.0388,3.0437]
GENE_FAINT_PLA2 = [True, False, False, False, False]
REGION_SVMP = (13.879, 14.440)
REGION_SVSP = (8.554, 9.000)
REGION_PLA2 = (3.0173, 3.0468)

# ---------------- style ----------------
W, H = 1378, 826
C_SVMP, C_SVSP, C_PLA2 = '#7fb3c5', '#4fae8c', '#b3285f'
C_CV1, C_CO1 = '#c9874c', '#3b4658'
C_GENE, C_GENE_FAINT = '#2e3a8f', '#a7acda'


def rect(x0, x1, y0, y1):
    return [x0 / W, 1 - y1 / H, (x1 - x0) / W, (y1 - y0) / H]


def style(ax, xlim, ylim, yticks, ylabels, xticks=None, xlabels=None):
    ax.set_xlim(xlim)
    ax.set_ylim(ylim)
    for s in ax.spines.values():
        s.set_linewidth(1.3)
    ax.set_yticks(yticks)
    ax.set_yticklabels(ylabels, rotation=90, va='center')
    ax.tick_params(axis='y', direction='out', length=9, width=1.2, labelsize=15, pad=5)
    if xticks is None:
        ax.tick_params(axis='x', bottom=False, labelbottom=False)
    else:
        ax.set_xticks(xticks)
        ax.set_xticklabels(xlabels)
        ax.tick_params(axis='x', direction='out', length=9, width=1.2, labelsize=15, pad=6)


def panel(ax, region, pos, snp, win, starts, ends, faint, ymark, color, alpha, tag, tagcol):
    ax.axvspan(region[0], region[1], color='#d3d3d3', lw=0, zorder=0)
    ax.scatter(pos, np.array(snp, dtype=float), s=40, color=color, alpha=alpha, lw=0, zorder=2)
    xl = ax.get_xlim()
    w = np.array(win, dtype=float)
    ax.plot(np.linspace(xl[0], xl[1], len(w)), w, color='black', lw=1.15, zorder=3)
    for a, b, f in zip(starts, ends, faint):
        ax.plot([a, b], [ymark, ymark], color=C_GENE_FAINT if f else C_GENE,
                lw=3.2, solid_capstyle='butt', zorder=4)
    ax.text(0.978, 0.925, tag, transform=ax.transAxes, ha='right', va='top',
            fontsize=14.5, fontweight='bold', color=tagcol, zorder=5)


fig = plt.figure(figsize=(13.78, 8.26), dpi=100)

IHS_TICKS = [0, 0.5, 1, 1.5, 2, 2.5]
IHS_LABELS = ['0', '', '1', '', '2', '']
columns = [
    dict(xpix=(87, 467), bpix=(452, 602, 752), xlim=(13.556, 14.739),
         xticks=[13.6, 13.8, 14.0, 14.2, 14.4, 14.6], xlabels=['13.6', '', '14.0', '', '14.4', ''],
         bylim=(-5.9, 21), byticks=[-5, 0, 5, 10, 15, 20], bylabels=['\u22125', '', '5', '', '15', ''],
         region=REGION_SVMP, pos=SNP_POS_SVMP + SNP2_POS_SVMP, color=C_SVMP, alpha=0.3,
         snps=[SNP_IHS_CV1_SVMP + SNP2_IHS_CV1_SVMP, SNP_IHS_CO1_SVMP + SNP2_IHS_CO1_SVMP,
               SNP_BETA_CV1_SVMP + SNP2_BETA_CV1_SVMP, SNP_BETA_CO1_SVMP + SNP2_BETA_CO1_SVMP],
         wins=[IHS_CV1_SVMP, IHS_CO1_SVMP, BETA_CV1_SVMP, BETA_CO1_SVMP],
         genes=(GENE_START_SVMP, GENE_END_SVMP, [False] * len(GENE_START_SVMP)),
         title=('Chromosome 9:', 'SVMP')),
    dict(xpix=(536, 917), bpix=(452, 602, 752), xlim=(8.315, 9.236),
         xticks=[8.4, 8.6, 8.8, 9.0, 9.2], xlabels=['8.4', '', '8.8', '', '9.2'],
         bylim=(-5.8, 15.9), byticks=[-5, 0, 5, 10, 15], bylabels=['', '0', '5', '10', '15'],
         region=REGION_SVSP, pos=SNP_POS_SVSP + SNP2_POS_SVSP, color=C_SVSP, alpha=0.26,
         snps=[SNP_IHS_CV1_SVSP + SNP2_IHS_CV1_SVSP, SNP_IHS_CO1_SVSP + SNP2_IHS_CO1_SVSP,
               SNP_BETA_CV1_SVSP + SNP2_BETA_CV1_SVSP, SNP_BETA_CO1_SVSP + SNP2_BETA_CO1_SVSP],
         wins=[IHS_CV1_SVSP, IHS_CO1_SVSP, BETA_CV1_SVSP, BETA_CO1_SVSP],
         genes=(GENE_START_SVSP, GENE_END_SVSP, [False] * len(GENE_START_SVSP)),
         title=('Chromosome 10:', 'SVSP')),
    dict(xpix=(990, 1372), bpix=(449, 599, 748), xlim=(2.976, 3.0842),
         xticks=[2.98, 3.00, 3.02, 3.04, 3.06, 3.08], xlabels=['2.98', '', '3.02', '', '3.06', ''],
         bylim=(-4.6, 10.5), byticks=[-4, -2, 0, 2, 4, 6, 8, 10],
         bylabels=['', '', '0', '', '4', '', '8', ''],
         region=REGION_PLA2, pos=SNP_POS_PLA2 + SNP2_POS_PLA2, color='#a8435f', alpha=0.3,
         snps=[SNP_IHS_CV1_PLA2 + SNP2_IHS_CV1_PLA2, SNP_IHS_CO1_PLA2 + SNP2_IHS_CO1_PLA2,
               SNP_BETA_CV1_PLA2 + SNP2_BETA_CV1_PLA2, SNP_BETA_CO1_PLA2 + SNP2_BETA_CO1_PLA2],
         wins=[IHS_CV1_PLA2, IHS_CO1_PLA2, BETA_CV1_PLA2, BETA_CO1_PLA2],
         genes=(GENE_START_PLA2, GENE_END_PLA2, GENE_FAINT_PLA2),
         title=('Chromosome 15:', 'PLA2')),
]
title_colors = [C_SVMP, C_SVSP, C_PLA2]

for ci, col in enumerate(columns):
    x0, x1 = col['xpix']
    b0, b1, b2 = col['bpix']
    rows = [(67, 216), (216, 366), (b0, b1), (b1, b2)]
    for ri, (y0, y1) in enumerate(rows):
        ax = fig.add_axes(rect(x0, x1, y0, y1))
        is_ihs = ri < 2
        bottom = ri in (1, 3)
        style(ax, col['xlim'], (-0.25, 2.6) if is_ihs else col['bylim'],
              IHS_TICKS if is_ihs else col['byticks'],
              IHS_LABELS if is_ihs else col['bylabels'],
              col['xticks'] if bottom else None, col['xlabels'] if bottom else None)
        panel(ax, col['region'], col['pos'], col['snps'][ri], col['wins'][ri],
              *col['genes'], -0.1 if is_ihs else -3.0, col['color'], col['alpha'],
              'CV1' if ri % 2 == 0 else 'CO1', C_CV1 if ri % 2 == 0 else C_CO1)
        if ri == 0:
            t1 = TextArea(col['title'][0], textprops=dict(fontsize=24.5, color='black'))
            t2 = TextArea(col['title'][1], textprops=dict(fontsize=24.5, color=title_colors[ci],
                                                          fontweight='bold'))
            box = HPacker(children=[t1, t2], align='baseline', pad=0, sep=8)
            ax.add_artist(AnnotationBbox(box, (0.5, 1.05), xycoords='axes fraction',
                                         box_alignment=(0.5, 0.0), frameon=False, pad=0))
    xc = (x0 + x1) / 2 / W
    fig.text(xc, 1 - 427 / H, 'Chromosome Position (Mb)', ha='center', va='center', fontsize=15)
    fig.text(xc, 1 - (b2 + 61) / H, 'Chromosome Position (Mb)', ha='center', va='center', fontsize=15)

fig.text(26 / W, 1 - 216 / H, r'|$\mathit{iHS}$|', rotation=90, ha='center', va='center', fontsize=18)
fig.text(32 / W, 1 - 600 / H, '\u03b2', rotation=90, ha='center', va='center', fontsize=25,
         family='Liberation Serif', style='italic')
fig.text(8 / W, 1 - 50 / H, 'a', fontsize=46, va='baseline')
fig.text(8 / W, 1 - 449 / H, 'b', fontsize=46, va='baseline')

fig.savefig('out.png', dpi=100)
